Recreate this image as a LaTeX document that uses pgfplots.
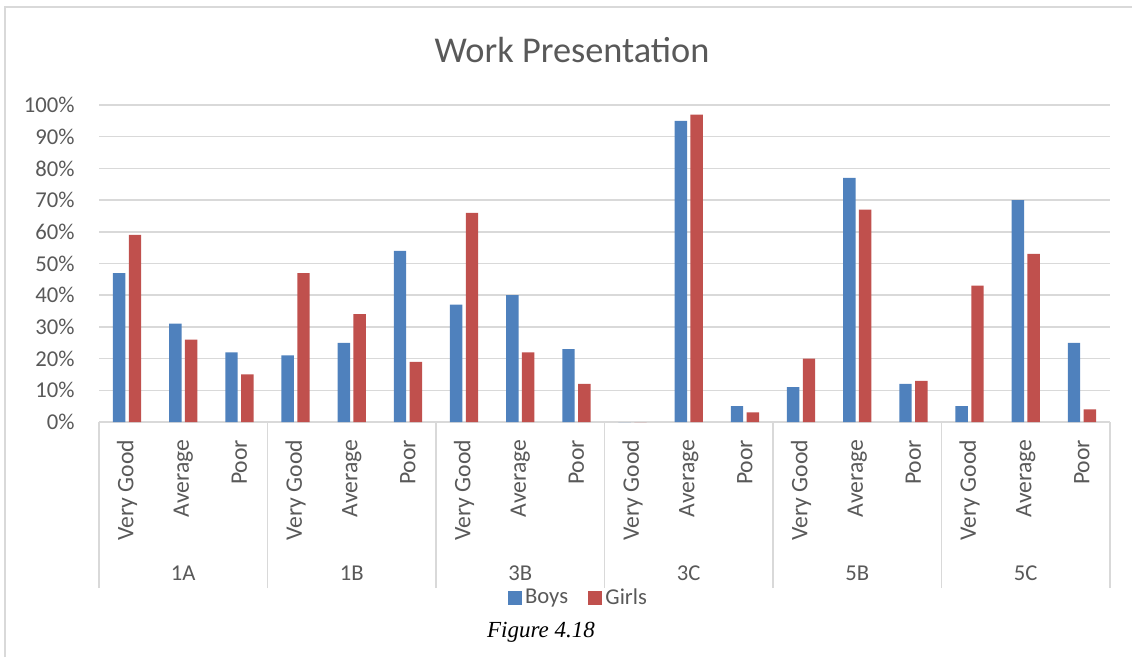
\documentclass[border=0pt]{standalone}
\usepackage{fontspec}
\setmainfont{Carlito}
\newfontfamily\capfont{Liberation Serif}
\usepackage{pgfplots}
\pgfplotsset{compat=1.18}

\definecolor{boys}{HTML}{4F81BD}
\definecolor{girls}{HTML}{C0504D}
\definecolor{gridc}{HTML}{D9D9D9}
\definecolor{txt}{HTML}{595959}

% x positions: 0..17, three ratings per class
\pgfplotstableread{
x boys girls
0  47 59
1  31 26
2  22 15
3  21 47
4  25 34
5  54 19
6  37 66
7  40 22
8  23 12
9  0  0
10 95 97
11 5  3
12 11 20
13 77 67
14 12 13
15 5  43
16 70 53
17 25 4
}\wpdata

\begin{document}
\begin{tikzpicture}
\path[use as bounding box] (-59.4pt,-141pt) rectangle (619.8pt,253.2pt);
\draw[gridc, line width=0.9pt] (-56.4pt,-141pt) -- (-56.4pt,249pt) -- (619.8pt,249pt);
\begin{axis}[
  at={(0pt,0pt)}, anchor=south west,
  scale only axis, width=606.6pt, height=190.2pt,
  xmin=-0.5, xmax=17.5, ymin=0, ymax=100,
  ybar=2.04pt, bar width=7.44pt,
  axis x line*=bottom, axis y line*=left,
  x axis line style={gridc, line width=0.9pt, -},
  y axis line style={draw=none},
  ymajorgrids, grid style={gridc, line width=0.9pt},
  major tick length=0pt,
  tick style={draw=gridc, line width=0.9pt},
  ytick={0,10,...,100},
  yticklabel={\pgfmathprintnumber{\tick}\%},
  /pgf/number format/assume math mode=true,
  yticklabel style={anchor=east, inner sep=0pt, xshift=-14.4pt, text=txt,
    font=\fontsize{13.6}{16}\selectfont},
  xtick={0,...,17},
  xticklabels={Very Good,Average,Poor,Very Good,Average,Poor,Very Good,Average,Poor,
               Very Good,Average,Poor,Very Good,Average,Poor,Very Good,Average,Poor},
  xticklabel style={rotate=90, anchor=east, inner sep=0pt, xshift=-10.5pt, text=txt,
    font=\fontsize{14.2}{16}\selectfont},
  extra x ticks={-0.5,2.5,5.5,8.5,11.5,14.5,17.5},
  extra x tick labels={},
  extra x tick style={xtick align=outside, major tick length=99.6pt, grid=none},
  legend style={at={(0.4748,-0.555)}, anchor=center, draw=none, fill=none,
    legend columns=2, text=txt, font=\fontsize{13.6}{16}\selectfont,
    /tikz/every even column/.append style={column sep=10pt}},
  clip=false,
]
\addplot[fill=boys, draw=none,
  legend image code/.code={\fill[boys] (0pt,-4.2pt) rectangle (8.4pt,4.2pt);}]
  table[x=x, y=boys] {\wpdata};
\addplot[fill=girls, draw=none,
  legend image code/.code={\fill[girls] (0pt,-4.2pt) rectangle (8.4pt,4.2pt);}]
  table[x=x, y=girls] {\wpdata};
\legend{Boys, Girls}
\begin{scope}[every node/.style={text=txt, font=\fontsize{13.6}{16}\selectfont, yshift=-90.9pt}]
\node at (axis cs:1,0) {1A};
\node at (axis cs:4,0) {1B};
\node at (axis cs:7,0) {3B};
\node at (axis cs:10,0) {3C};
\node at (axis cs:13,0) {5B};
\node at (axis cs:16,0) {5C};
\end{scope}
\end{axis}
\node[text=txt, font=\fontsize{21.8}{26}\selectfont] at (283.8pt,223.2pt) {Work Presentation};
\node[font=\capfont\itshape\fontsize{13.8}{16}\selectfont] at (265.2pt,-126pt) {Figure 4.18};
\end{tikzpicture}
\end{document}
